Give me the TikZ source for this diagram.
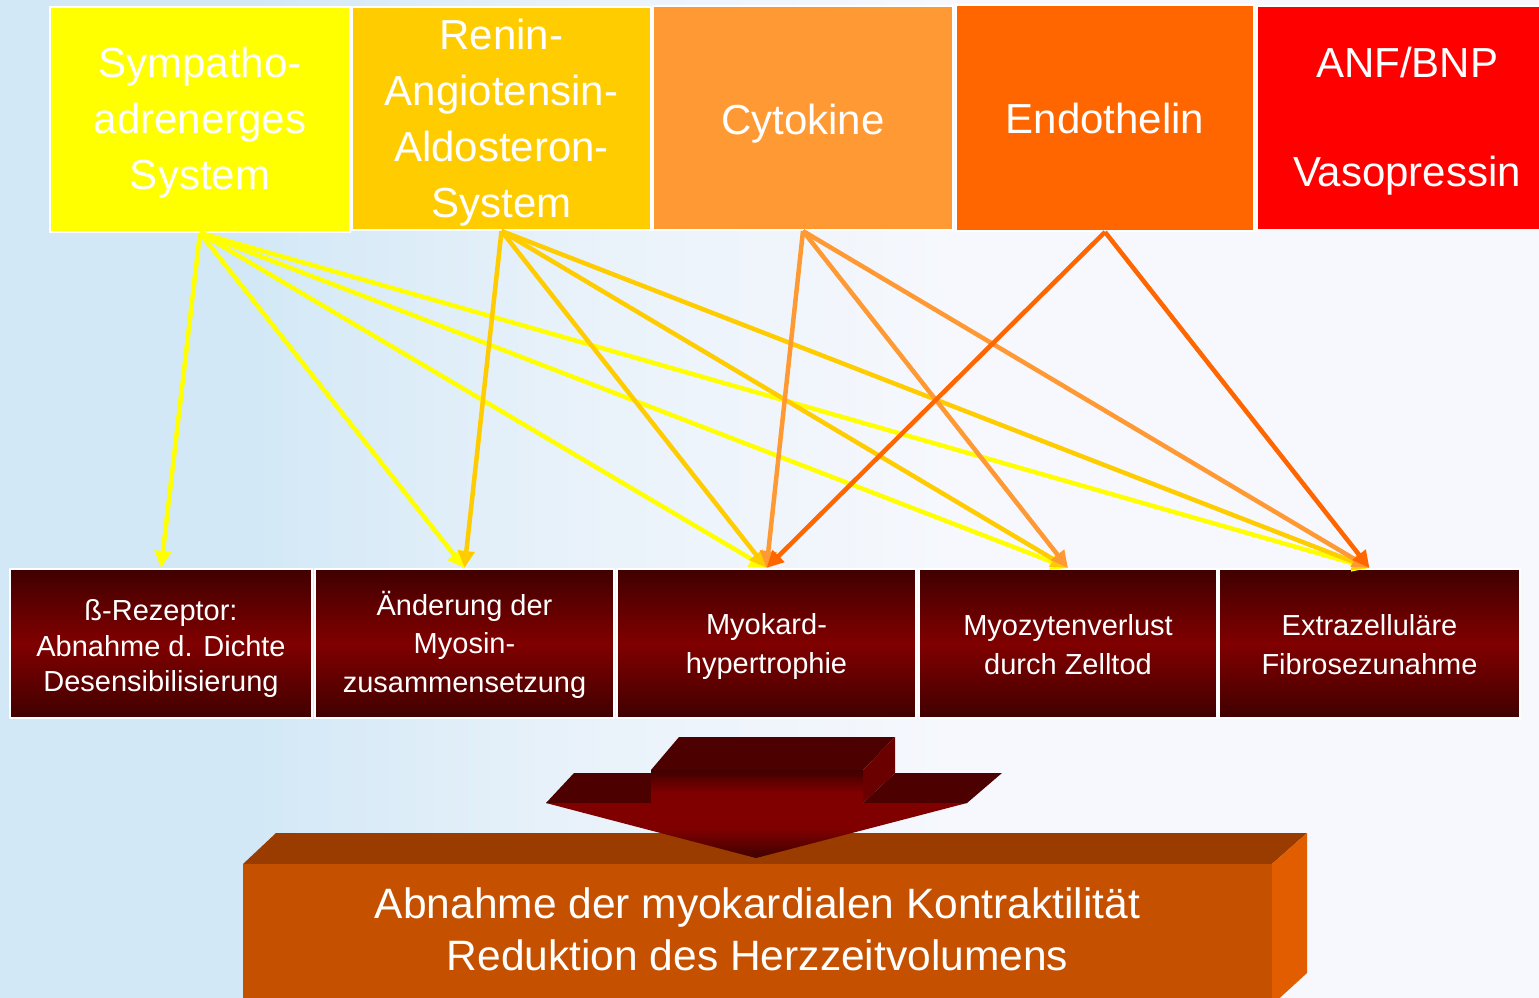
\documentclass[tikz,border=0pt]{standalone}
\usepackage{fontspec}
\setmainfont{Liberation Sans}
\usetikzlibrary{arrows.meta}
\definecolor{bgA}{HTML}{D2E8F6}
\definecolor{bgB}{HTML}{E9F2FA}
\definecolor{bgC}{HTML}{F6F8FD}
\definecolor{cA}{HTML}{FFFF00}
\definecolor{cB}{HTML}{FFCC00}
\definecolor{cC}{HTML}{FF9933}
\definecolor{cD}{HTML}{FF6600}
\definecolor{cE}{HTML}{FF0000}
\definecolor{drk}{HTML}{400000}
\definecolor{mid}{HTML}{800000}
\definecolor{frontO}{HTML}{C45000}
\definecolor{topO}{HTML}{9A3C00}
\definecolor{sideO}{HTML}{E25C00}
\definecolor{arrTop}{HTML}{4C0000}
\definecolor{arrSide}{HTML}{6A0000}
\pgfdeclareverticalshading{darkred}{100bp}{color(0bp)=(drk); color(25bp)=(drk); color(50bp)=(mid); color(75bp)=(drk); color(100bp)=(drk)}
\pgfdeclareverticalshading{arrowred}{100bp}{color(0bp)=(drk); color(25bp)=(drk); color(42bp)=(mid); color(62bp)=(mid); color(75bp)=(drk); color(100bp)=(drk)}
\pgfdeclarehorizontalshading{bgshade}{100bp}{color(0bp)=(bgA); color(33bp)=(bgA); color(44bp)=(bgB); color(56bp)=(bgC); color(100bp)=(bgC)}
\begin{document}
\begin{tikzpicture}[x=1pt,y=-1pt,
  topbox/.style={draw=white,line width=2pt,inner sep=0pt},
  toptext/.style={text=white,align=center,inner sep=0pt,font=\fontsize{42}{56}\selectfont},
  effbox/.style={draw=white,line width=2pt,shade,shading=darkred,
    inner sep=0pt,minimum width=299pt,minimum height=149pt},
  efftext/.style={text=white,align=center,inner sep=0pt,font=\fontsize{29}{37}\selectfont},
  link/.style={line width=4.5pt,-{Triangle[length=17pt,width=16pt]}}]
\useasboundingbox (0,0) rectangle (1539,998);
\clip (0,0) rectangle (1539,998);
\shade[shading=bgshade] (0,0) rectangle (1539,998);

% top boxes
\node[topbox,fill=cA,minimum width=300pt,minimum height=225pt] (s1) at (200,119.5) {};
\node[topbox,fill=cB,minimum width=299pt,minimum height=223pt] (s2) at (501.5,118.5) {};
\node[topbox,fill=cC,minimum width=300pt,minimum height=224pt] (s3) at (803,118) {};
\node[topbox,fill=cD,minimum width=298pt,minimum height=226pt] (s4) at (1105,118) {};
\node[topbox,fill=cE,minimum width=300pt,minimum height=224pt] (s5) at (1407,118) {};
\node[toptext] (t1) at ([yshift=-3pt]s1.center) {Sympatho-\\adrenerges\\System};
\node[toptext] (t2) at ([yshift=-4pt]s2.center) {Renin-\\Angiotensin-\\Aldosteron-\\System};
\node[toptext] (t3) at ([yshift=-6pt]s3.center) {Cytokine};
\node[toptext] (t4) at ([yshift=0pt]s4.center) {Endothelin};
\node[toptext] (t5) at ([yshift=-3pt]s5.center) {ANF/BNP\\[53pt]Vasopressin};

% effect boxes
\node[effbox,minimum width=302pt] (e1) at (161,643.5) {};
\node[effbox] (e2) at (464.5,643.5) {};
\node[effbox] (e3) at (766.5,643.5) {};
\node[effbox,minimum width=298pt] (e4) at (1068,643.5) {};
\node[effbox,minimum width=301pt] (e5) at (1369.5,643.5) {};
\node[efftext,font=\fontsize{29}{35.5}\selectfont] (x1) at ([yshift=-5pt]e1.center) {ß-Rezeptor:\\Abnahme d. Dichte\\Desensibilisierung};
\node[efftext,font=\fontsize{29}{38.5}\selectfont] (x2) at ([yshift=-1pt]e2.center) {Änderung der\\Myosin-\\zusammensetzung};
\node[efftext,font=\fontsize{29}{38.5}\selectfont] (x3) at ([yshift=-3pt]e3.center) {Myokard-\\hypertrophie};
\node[efftext,font=\fontsize{29}{38.5}\selectfont] (x4) at ([yshift=-1pt]e4.center) {Myozytenverlust\\durch Zelltod};
\node[efftext,font=\fontsize{29}{38.5}\selectfont] (x5) at ([yshift=-1pt]e5.center) {Extrazelluläre\\Fibrosezunahme};

% connectors
\foreach \t in {e1,e2,e3,e4,e5} \draw[link,cA] (s1.south) -- (\t.north);
\foreach \t in {e2,e3,e4,e5} \draw[link,cB] (s2.south) -- (\t.north);
\foreach \t in {e3,e4,e5} \draw[link,cC] (s3.south) -- (\t.north);
\foreach \t in {e3,e5} \draw[link,cD] (s4.south) -- (\t.north);

% result block (3D)
\fill[topO] (243,864) -- (276,833) -- (1307,833) -- (1272,864) -- cycle;
\fill[sideO] (1272,864) -- (1307,833) -- (1307,973) -- (1272,1005) -- cycle;
\fill[frontO] (243,864) rectangle (1272,1005);
\node[text=white,align=center,font=\fontsize{42.5}{52}\selectfont,inner sep=0pt] (res) at (757.5,929)
  {Abnahme der myokardialen Kontraktilität\\Reduktion des Herzzeitvolumens};

% big 3D arrow
\fill[arrTop] (651,770) -- (679,737) -- (895,737) -- (863,770) -- cycle;
\fill[arrSide] (863,770) -- (895,737) -- (895,773) -- (863,803) -- cycle;
\fill[arrTop] (574,773) -- (651,773) -- (651,803) -- (546,803) -- cycle;
\fill[arrTop] (895,773) -- (1002,773) -- (967,803) -- (863,803) -- cycle;
\shade[shading=arrowred] (651,770) -- (863,770) -- (863,803) -- (967,803) -- (756,858) -- (546,803) -- (651,803) -- cycle;
\end{tikzpicture}
\end{document}
